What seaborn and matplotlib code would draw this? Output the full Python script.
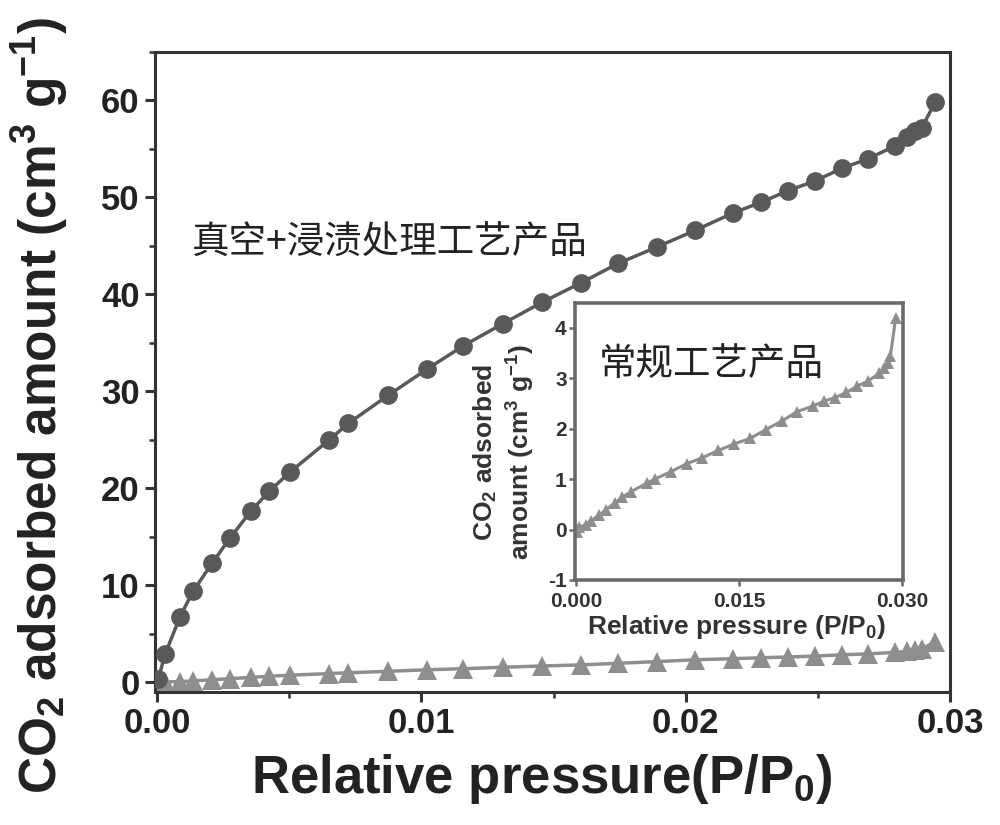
import matplotlib
matplotlib.use("Agg")
import matplotlib.pyplot as plt
from matplotlib.ticker import MultipleLocator, FixedLocator
import seaborn as sns
import pandas as pd

# ---- data ----
pressure = [0.00005, 0.0003, 0.00087, 0.00136, 0.00208, 0.00276, 0.00356, 0.00424,
            0.00503, 0.00651, 0.00723, 0.00874, 0.01021, 0.01158, 0.01309, 0.01457,
            0.01604, 0.01744, 0.01892, 0.02035, 0.02179, 0.02285, 0.02387, 0.02489,
            0.02591, 0.02690, 0.02792, 0.02837, 0.02868, 0.02894, 0.02943]
vacuum_impregnated = [0.4, 2.9, 6.8, 9.4, 12.3, 14.9, 17.7, 19.7,
                      21.7, 25.0, 26.7, 29.6, 32.3, 34.7, 37.0, 39.2,
                      41.2, 43.2, 44.9, 46.6, 48.4, 49.5, 50.7, 51.7,
                      53.0, 54.0, 55.3, 56.2, 56.9, 57.2, 59.8]
conventional = [-0.05, 0.05, 0.09, 0.17, 0.28, 0.39, 0.53, 0.64,
                0.75, 0.92, 1.00, 1.15, 1.31, 1.42, 1.57, 1.70,
                1.81, 1.98, 2.15, 2.34, 2.45, 2.55, 2.62, 2.72,
                2.85, 2.95, 3.10, 3.20, 3.30, 3.45, 4.2]
label_vacuum = "真空+浸渍处理工艺产品"
label_conv = "常规工艺产品"
main_xticks = [0.0, 0.01, 0.02, 0.03]
main_yticks = [0, 10, 20, 30, 40, 50, 60]
inset_xticks = [0.0, 0.015, 0.030]
inset_yticks = [-1, 0, 1, 2, 3, 4]

df = pd.DataFrame({"p": pressure, "vac": vacuum_impregnated, "conv": conventional})

sns.set_theme(style="ticks")
plt.rcParams["font.family"] = ["Liberation Sans", "Noto Sans CJK SC", "DejaVu Sans"]
plt.rcParams["mathtext.fontset"] = "custom"
plt.rcParams["mathtext.rm"] = "Liberation Sans:bold"
plt.rcParams["mathtext.it"] = "Liberation Sans:bold"
plt.rcParams["mathtext.bf"] = "Liberation Sans:bold"
plt.rcParams["mathtext.default"] = "rm"

DARK = "#595959"
LIGHT = "#8e8e8e"
AX = "#333333"
TXT = "#222222"

fig = plt.figure(figsize=(10, 8.25), dpi=100)
ax = fig.add_axes([0.155, 0.161, 0.795, 0.776])

sns.lineplot(data=df, x="p", y="conv", ax=ax, color=LIGHT, marker="^", markersize=15,
             markeredgewidth=0, linewidth=2.5, sort=False, estimator=None, zorder=2)
sns.lineplot(data=df, x="p", y="vac", ax=ax, color=DARK, marker="o", markersize=13.5,
             markeredgewidth=0, linewidth=2.5, sort=False, estimator=None, zorder=3)

ax.set_xlim(-0.00008, 0.0300)
ax.set_ylim(-1, 65)
ax.xaxis.set_major_locator(FixedLocator(main_xticks))
ax.yaxis.set_major_locator(FixedLocator(main_yticks))
ax.xaxis.set_minor_locator(MultipleLocator(0.005))
ax.yaxis.set_minor_locator(MultipleLocator(5))
ax.set_xticklabels([f"{v:.2f}" for v in main_xticks])
ax.set_yticklabels([str(v) for v in main_yticks])
for s in ax.spines.values():
    s.set_linewidth(2.2)
    s.set_color(AX)
    s.set_visible(True)
ax.tick_params(which="major", direction="out", length=7, width=2.2, color=AX,
               labelsize=25, pad=4, labelcolor=TXT)
ax.tick_params(which="minor", direction="out", length=4, width=1.8, color=AX)
for lab in ax.get_xticklabels() + ax.get_yticklabels():
    lab.set_fontweight("bold")

ax.set_xlabel(r"Relative pressure(P/P$_0$)", fontsize=38, fontweight="bold", color=TXT)
ax.xaxis.set_label_coords(0.487, -0.094)
ax.set_ylabel(r"CO$_2$ adsorbed amount (cm$^3$ g$^{-1}$)", fontsize=37,
              fontweight="bold", color=TXT)
ax.yaxis.set_label_coords(-0.107, 0.447)

ax.text(0.00133, 45.3, label_vacuum, fontsize=27, color=TXT,
        family=["Noto Sans CJK SC", "DejaVu Sans"], va="center", ha="left")

# ---- inset ----
ins = fig.add_axes([0.575, 0.297, 0.328, 0.336])
ins.set_facecolor("white")
sns.lineplot(data=df, x="p", y="conv", ax=ins, color=LIGHT, marker="^", markersize=9,
             markeredgewidth=0, linewidth=2.2, sort=False, estimator=None)
ins.set_xlim(-0.0001, 0.0301)
ins.set_ylim(-1, 4.5)
ins.xaxis.set_major_locator(FixedLocator(inset_xticks))
ins.yaxis.set_major_locator(FixedLocator(inset_yticks))
ins.set_xticklabels([f"{v:.3f}" for v in inset_xticks])
ins.set_yticklabels([str(v) for v in inset_yticks])
for s in ins.spines.values():
    s.set_linewidth(2.6)
    s.set_color("#6a6a6a")
    s.set_visible(True)
ins.tick_params(which="major", direction="out", length=4, width=1.8, color="#6a6a6a",
                labelsize=15, labelcolor="#333333")
ins.tick_params(axis="x", pad=5)
ins.tick_params(axis="y", pad=2)
for lab in ins.get_xticklabels() + ins.get_yticklabels():
    lab.set_fontweight("bold")
ins.set_xlabel(r"Relative pressure (P/P$_0$)", fontsize=19, fontweight="bold",
               color="#333333")
ins.xaxis.set_label_coords(0.494, -0.12)
ins.set_ylabel("CO$_2$ adsorbed\namount (cm$^3$ g$^{-1}$)", fontsize=19,
               fontweight="bold", color="#333333", linespacing=1.25)
ins.yaxis.set_label_coords(-0.115, 0.46)
ins.text(0.0021, 3.25, label_conv, fontsize=27, color=TXT,
         family=["Noto Sans CJK SC", "DejaVu Sans"], va="center", ha="left")

fig.savefig("out.png", dpi=100, facecolor="white")
